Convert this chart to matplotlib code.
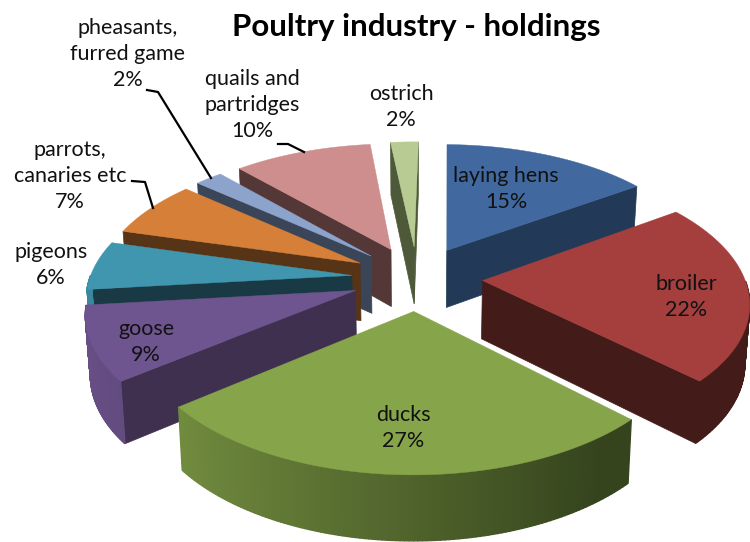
#!/usr/bin/env python3
import numpy as np
import matplotlib
matplotlib.use("Agg")
import matplotlib.pyplot as plt
from matplotlib.colors import to_rgb
from matplotlib.patches import Polygon

plt.rcParams['font.family'] = ['Lato', 'DejaVu Sans']

categories = ["laying hens", "broiler", "ducks", "goose", "pigeons",
              "parrots,\ncanaries etc", "pheasants,\nfurred game",
              "quails and\npartridges", "ostrich"]
shares = [15, 22, 27, 9, 6, 7, 2, 10, 2]
top_colors = ["#41699F", "#A43F3E", "#86A44A", "#6F5590", "#3F96AE",
              "#D67F38", "#8CA3CC", "#CE8E8D", "#B7CB93"]
cut_colors = ["#223A57", "#431C19", "#35441D", "#3F3050", "#193A45",
              "#583417", "#3A4558", "#543837", "#4D5938"]
# painter's order, far slices first
draw_order = [7, 8, 0, 6, 5, 4, 3, 1, 2]
# label centres in pixels
label_pos = [(506, 189), (686, 297), (403, 428), (146, 342), (51, 265),
             (70, 176), (128, 54), (252, 105), (401, 107)]

CX, CY = 417, 278
BX, AY = 262, 128.8
K = 0.146
EXPLODE = 0.25
ROTATION = np.radians(1.0)


def project(X, Y):
    w = 1 / (1 - K * Y)
    return CX + BX * X * w, CY + AY * Y * w


def lower(x, y):
    # bottom face of the pie, a bit smaller and further down
    return CX + (x - CX) * 0.985, y + 57 + (y - 250) * 0.04


fig = plt.figure(figsize=(7.5, 5.42), dpi=100)
ax = fig.add_axes([0, 0, 1, 1])
ax.set_xlim(0, 750)
ax.set_ylim(542, 0)
ax.axis("off")

edges = np.cumsum([0] + shares) / sum(shares) * 2 * np.pi + ROTATION

for i in draw_order:
    a0, a1 = edges[i], edges[i + 1]
    mid = (a0 + a1) / 2
    ex, ey = EXPLODE * np.sin(mid), -EXPLODE * np.cos(mid)
    th = np.linspace(a0, a1, 120)
    ox, oy = project(ex + np.sin(th), ey - np.cos(th))
    px, py = project(ex, ey)
    bx, by = lower(ox, oy)
    qx, qy = lower(px, py)

    # flat cut faces, only those turned towards the viewer
    for j, seen in ((0, -np.sin(a0) > 0), (-1, np.sin(a1) > 0)):
        if seen:
            ax.add_patch(Polygon([(px, py), (ox[j], oy[j]), (bx[j], by[j]), (qx, qy)],
                                 fc=cut_colors[i], ec=cut_colors[i], lw=0.5))
    # curved wall, lit from the left, shaded strip by strip
    top = np.array(to_rgb(top_colors[i]))
    low = np.array(to_rgb(cut_colors[i]))
    for j in range(len(th) - 1):
        m = (th[j] + th[j + 1]) / 2
        if np.cos(m) >= 0:
            continue
        c = low + (top - low) * 0.85 * max(0, 0.6 - np.sin(m)) / 1.6
        ax.add_patch(Polygon([(ox[j], oy[j]), (ox[j + 1], oy[j + 1]),
                              (bx[j + 1], by[j + 1]), (bx[j], by[j])],
                             fc=c, ec=c, lw=1.0))
    ax.add_patch(Polygon(np.column_stack([np.r_[px, ox], np.r_[py, oy]]),
                         fc=top_colors[i], ec=top_colors[i], lw=0.3))

for name, share, pos in zip(categories, shares, label_pos):
    ax.text(pos[0], pos[1], f"{name}\n{share}%", ha="center", va="center",
            fontsize=15.5, color="#111111", linespacing=1.38, zorder=5)

ax.text(416, 27, "Poultry industry - holdings", ha="center", va="center",
        fontsize=22.5, fontweight="bold", color="black", zorder=5)

for xs, ys in [((147, 158, 211), (90, 92, 178)),
               ((278, 288, 304), (144, 144, 152)),
               ((132, 145, 153), (181, 182, 208))]:
    ax.plot(xs, ys, color="black", lw=1.6, zorder=4)

fig.savefig("out.png", dpi=100)
